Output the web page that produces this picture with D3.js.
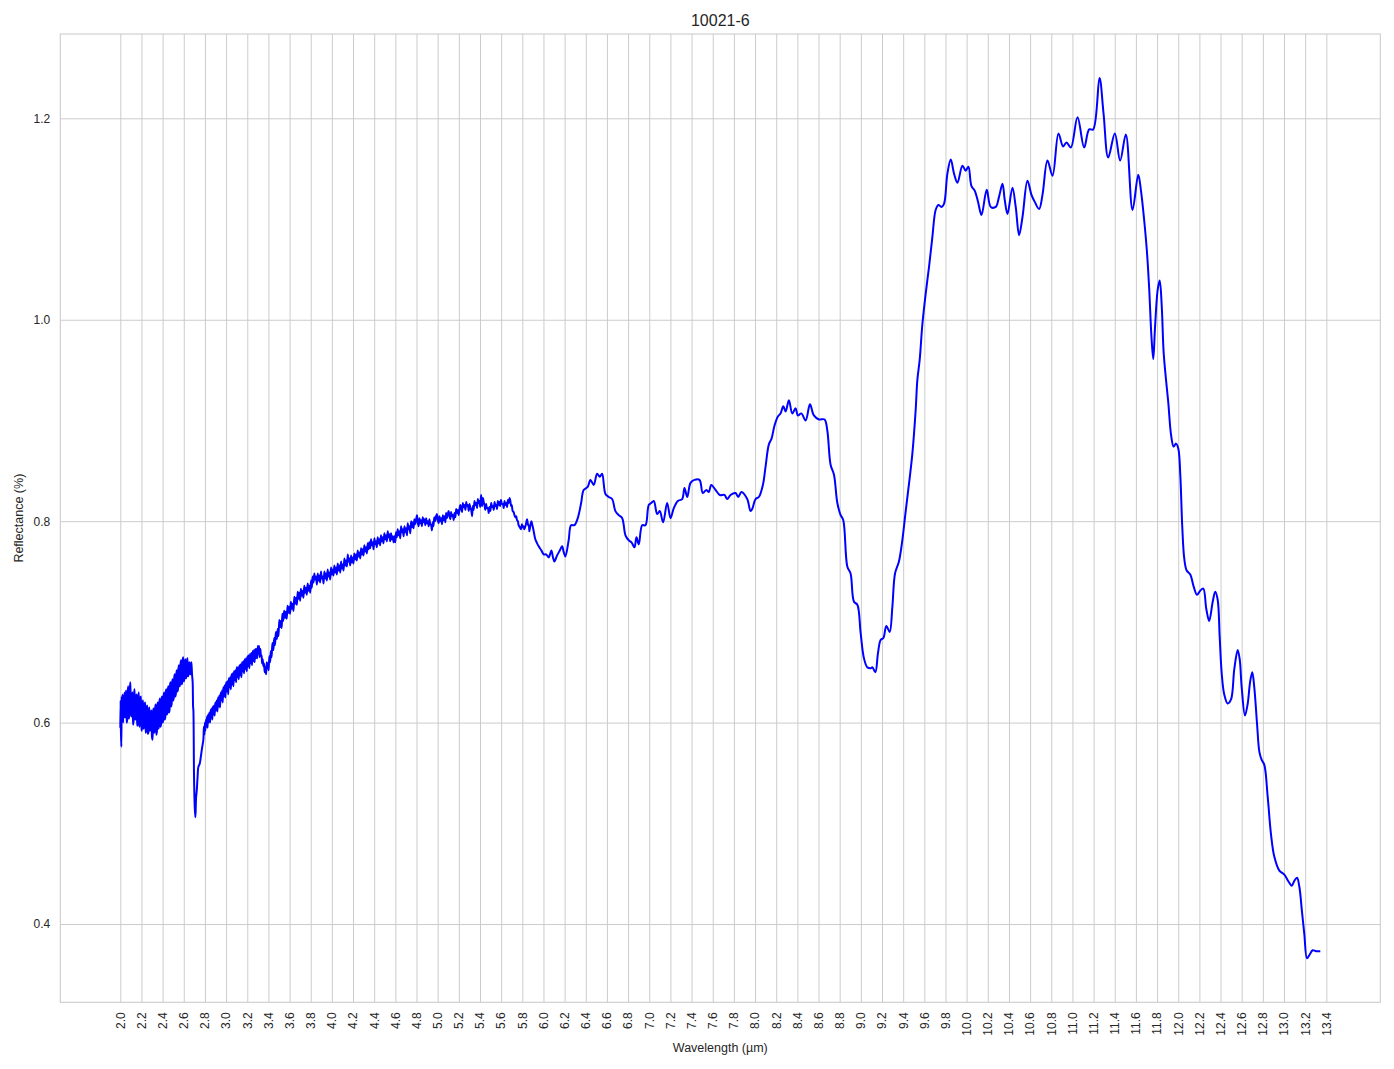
<!DOCTYPE html>
<html>
<head>
<meta charset="utf-8">
<script src="https://cdn.jsdelivr.net/npm/d3@7"></script>
<style>
  html, body { margin: 0; padding: 0; background: #ffffff; }
  svg { display: block; }
  text { font-family: "Liberation Sans", Arial, sans-serif; fill: #262626; }
</style>
</head>
<body>
<svg id="chart" width="1394" height="1069"></svg>
<script>
// ---------- DATA ----------
const title = "10021-6";
const xLabel = "Wavelength (µm)";
const yLabel = "Reflectance (%)";

const xTicks = [2.0,2.2,2.4,2.6,2.8,3.0,3.2,3.4,3.6,3.8,4.0,4.2,4.4,4.6,4.8,5.0,5.2,5.4,5.6,5.8,
  6.0,6.2,6.4,6.6,6.8,7.0,7.2,7.4,7.6,7.8,8.0,8.2,8.4,8.6,8.8,9.0,9.2,9.4,9.6,9.8,
  10.0,10.2,10.4,10.6,10.8,11.0,11.2,11.4,11.6,11.8,12.0,12.2,12.4,12.6,12.8,13.0,13.2,13.4];
const yTicks = [0.4, 0.6, 0.8, 1.0, 1.2];

// [wavelength µm, reflectance]
const segNearIR = [
  [2.000,0.595],[2.003,0.622],[2.006,0.590],[2.010,0.576],[2.013,0.626],[2.018,0.604],[2.022,0.628],[2.027,0.600],[2.031,0.627],[2.036,0.605],[2.040,0.630],
  [2.045,0.605],[2.050,0.626],[2.055,0.632],[2.060,0.600],[2.065,0.603],[2.070,0.630],[2.075,0.636],[2.080,0.604],[2.085,0.608],[2.090,0.633],[2.095,0.640],[2.100,0.610],[2.105,0.606],
  [2.110,0.627],[2.115,0.630],[2.120,0.598],[2.125,0.601],[2.130,0.628],[2.135,0.633],[2.140,0.603],[2.145,0.607],[2.150,0.626],[2.155,0.628],[2.160,0.597],[2.165,0.598],[2.170,0.625],[2.175,0.630],
  [2.180,0.596],[2.185,0.600],[2.190,0.624],[2.195,0.626],[2.200,0.592],[2.205,0.594],[2.210,0.619],[2.215,0.622],[2.220,0.594],[2.225,0.598],[2.230,0.618],[2.235,0.620],[2.240,0.590],[2.245,0.592],
  [2.250,0.614],[2.255,0.617],[2.260,0.589],[2.265,0.590],[2.270,0.612],[2.275,0.615],[2.280,0.592],[2.285,0.595],[2.290,0.609],[2.295,0.612],[2.300,0.585],[2.305,0.583],[2.310,0.611],[2.315,0.614],
  [2.320,0.590],[2.325,0.592],[2.330,0.615],[2.335,0.618],[2.340,0.588],[2.345,0.590],[2.350,0.617],[2.355,0.620],[2.360,0.594],[2.365,0.596],[2.370,0.621],[2.375,0.624],[2.380,0.596],[2.385,0.598],
  [2.390,0.623],[2.395,0.626],[2.400,0.600],[2.405,0.602],[2.410,0.627],[2.415,0.630],[2.420,0.603],[2.425,0.605],[2.430,0.630],[2.435,0.633],[2.440,0.608],[2.445,0.610],[2.450,0.633],[2.455,0.636],
  [2.460,0.610],[2.465,0.612],[2.470,0.637],[2.475,0.640],[2.480,0.616],[2.485,0.618],[2.490,0.640],[2.495,0.643],[2.500,0.622],[2.505,0.624],[2.510,0.645],[2.515,0.648],[2.520,0.626],[2.525,0.628],
  [2.530,0.649],[2.535,0.652],[2.540,0.631],[2.545,0.633],[2.550,0.654],[2.555,0.657],[2.560,0.636],[2.565,0.638],[2.570,0.659],[2.575,0.662],[2.580,0.638],[2.585,0.640],[2.590,0.662],[2.595,0.665],
  [2.600,0.641],[2.605,0.643],[2.610,0.660],[2.615,0.663],[2.620,0.644],[2.625,0.646],[2.630,0.661],[2.635,0.664],[2.640,0.646],[2.645,0.648],[2.650,0.658],[2.655,0.660],[2.660,0.648],[2.665,0.650],
  [2.672,0.660],[2.678,0.648],[2.684,0.640],[2.688,0.616],[2.691,0.612],[2.697,0.546],[2.704,0.515],[2.710,0.506],
  [2.716,0.525],[2.723,0.533],[2.730,0.545],[2.738,0.556],[2.750,0.559],[2.761,0.566],[2.773,0.575]
];

const segMidIR = [
  [2.785,0.583],[2.790,0.596],[2.795,0.588],[2.800,0.600],[2.804,0.592],[2.810,0.603],[2.815,0.596],[2.820,0.606],[2.825,0.595],[2.830,0.608],[2.835,0.600],[2.842,0.610],[2.849,0.600],
  [2.855,0.613],[2.860,0.605],[2.865,0.614],[2.870,0.603],[2.875,0.616],[2.880,0.608],[2.886,0.617],[2.892,0.607],[2.898,0.620],[2.905,0.612],[2.911,0.622],[2.918,0.611],[2.924,0.625],[2.930,0.616],
  [2.936,0.627],[2.943,0.615],[2.949,0.630],[2.955,0.622],[2.962,0.632],[2.968,0.620],[2.974,0.635],[2.980,0.626],[2.987,0.637],[2.993,0.625],[3.000,0.640],[3.007,0.631],[3.013,0.641],[3.020,0.628],
  [3.026,0.644],[3.032,0.635],[3.039,0.645],[3.045,0.633],[3.051,0.648],[3.057,0.638],[3.063,0.649],[3.069,0.636],[3.075,0.651],[3.082,0.642],[3.088,0.652],[3.095,0.640],[3.101,0.655],[3.107,0.645],
  [3.113,0.655],[3.120,0.643],[3.126,0.657],[3.132,0.647],[3.138,0.658],[3.145,0.645],[3.151,0.660],[3.158,0.651],[3.164,0.661],[3.170,0.649],[3.176,0.663],[3.183,0.653],[3.189,0.664],[3.196,0.651],
  [3.202,0.666],[3.208,0.656],[3.214,0.667],[3.220,0.654],[3.226,0.668],[3.233,0.659],[3.239,0.669],[3.245,0.657],[3.252,0.671],[3.258,0.661],[3.264,0.672],[3.270,0.660],[3.276,0.673],[3.283,0.664],
  [3.289,0.673],[3.295,0.664],[3.300,0.676],[3.306,0.669],[3.312,0.676],[3.318,0.665],[3.324,0.673],[3.330,0.666],[3.335,0.667],[3.340,0.659],[3.346,0.663],[3.352,0.656],[3.358,0.659],[3.365,0.650],
  [3.372,0.655],[3.378,0.648],[3.384,0.660],[3.390,0.654],[3.396,0.659],[3.402,0.652],[3.409,0.666],[3.416,0.660],[3.423,0.671],[3.430,0.665],[3.438,0.679],[3.447,0.672],[3.455,0.684],[3.462,0.677],
  [3.471,0.690],[3.480,0.683],[3.488,0.693],[3.495,0.686],[3.503,0.702],[3.511,0.695],[3.518,0.701],[3.525,0.694],[3.532,0.708],[3.540,0.701],[3.549,0.711],[3.558,0.704],[3.565,0.710],[3.573,0.703],
  [3.581,0.716],[3.590,0.709],[3.597,0.715],[3.605,0.708],[3.612,0.720],[3.620,0.713],[3.628,0.718],[3.637,0.711],[3.645,0.725],[3.653,0.718],[3.661,0.724],[3.669,0.717],[3.677,0.730],[3.685,0.723],
  [3.692,0.729],[3.700,0.721],[3.707,0.733],[3.715,0.726],[3.723,0.731],[3.731,0.724],[3.739,0.736],[3.747,0.729],[3.755,0.734],[3.763,0.727],[3.771,0.738],[3.779,0.731],[3.787,0.736],[3.795,0.729],
  [3.803,0.741],[3.810,0.734],[3.818,0.745],[3.826,0.739],[3.834,0.748],[3.842,0.742],[3.850,0.745],[3.858,0.737],[3.866,0.748],[3.874,0.741],[3.881,0.746],[3.889,0.739],[3.897,0.750],[3.905,0.743],
  [3.913,0.745],[3.921,0.738],[3.929,0.750],[3.937,0.743],[3.945,0.748],[3.953,0.741],[3.960,0.752],[3.968,0.745],[3.976,0.749],[3.984,0.742],[3.992,0.754],[4.000,0.747],[4.008,0.752],[4.015,0.746],
  [4.023,0.756],[4.031,0.749],[4.039,0.754],[4.047,0.747],[4.055,0.758],[4.063,0.751],[4.071,0.756],[4.079,0.749],[4.087,0.760],[4.094,0.753],[4.102,0.757],[4.110,0.751],[4.118,0.763],[4.126,0.756],
  [4.134,0.761],[4.142,0.755],[4.150,0.767],[4.157,0.760],[4.165,0.763],[4.173,0.756],[4.181,0.766],[4.189,0.759],[4.197,0.764],[4.204,0.758],[4.212,0.768],[4.220,0.762],[4.228,0.767],[4.236,0.761],
  [4.244,0.771],[4.252,0.765],[4.260,0.769],[4.268,0.763],[4.276,0.773],[4.283,0.767],[4.291,0.772],[4.299,0.766],[4.307,0.776],[4.315,0.770],[4.323,0.774],[4.331,0.768],[4.339,0.778],[4.346,0.772],
  [4.354,0.779],[4.362,0.773],[4.370,0.782],[4.378,0.776],[4.386,0.779],[4.394,0.772],[4.402,0.783],[4.409,0.777],[4.417,0.780],[4.425,0.774],[4.433,0.784],[4.441,0.778],[4.449,0.782],[4.456,0.776],
  [4.464,0.786],[4.472,0.780],[4.480,0.784],[4.488,0.778],[4.496,0.788],[4.504,0.782],[4.512,0.786],[4.520,0.780],[4.528,0.790],[4.535,0.784],[4.543,0.787],[4.551,0.780],[4.559,0.788],[4.567,0.782],
  [4.575,0.785],[4.583,0.779],[4.591,0.785],[4.599,0.779],[4.606,0.789],[4.614,0.784],[4.622,0.792],[4.630,0.786],[4.638,0.790],[4.646,0.783],[4.654,0.795],[4.662,0.789],[4.670,0.792],[4.678,0.785],
  [4.686,0.795],[4.694,0.789],[4.702,0.793],[4.710,0.786],[4.717,0.798],[4.725,0.792],[4.733,0.795],[4.741,0.788],[4.749,0.800],[4.757,0.794],[4.765,0.799],[4.772,0.793],[4.780,0.802],[4.788,0.797],
  [4.796,0.801],[4.804,0.806],[4.812,0.799],[4.820,0.795],[4.828,0.803],[4.835,0.798],[4.843,0.801],[4.851,0.795],[4.859,0.804],[4.867,0.799],[4.875,0.802],[4.883,0.796],[4.891,0.803],[4.899,0.798],
  [4.907,0.800],[4.915,0.795],[4.922,0.802],[4.930,0.797],[4.938,0.796],[4.945,0.791],[4.953,0.799],[4.960,0.795],[4.968,0.804],[4.977,0.800],[4.985,0.805],[4.993,0.807],[5.001,0.801],[5.009,0.798],
  [5.017,0.805],[5.025,0.800],[5.033,0.803],[5.041,0.797],[5.049,0.806],[5.057,0.801],[5.065,0.805],[5.072,0.799],[5.080,0.808],[5.088,0.803],[5.096,0.807],[5.103,0.810],[5.111,0.806],[5.119,0.802],
  [5.127,0.809],[5.135,0.805],[5.143,0.806],[5.151,0.801],[5.159,0.808],[5.167,0.804],[5.175,0.812],[5.183,0.808],[5.190,0.811],[5.198,0.806],[5.206,0.812],[5.214,0.816],[5.222,0.813],[5.230,0.809],
  [5.238,0.818],[5.246,0.814],[5.254,0.816],[5.262,0.811],[5.270,0.819],[5.277,0.815],[5.285,0.816],[5.293,0.810],[5.301,0.817],[5.309,0.813],[5.317,0.811],[5.325,0.805],[5.332,0.815],[5.340,0.811],
  [5.348,0.820],[5.356,0.816],[5.364,0.818],[5.372,0.813],[5.380,0.822],[5.388,0.818],[5.395,0.820],[5.402,0.814],[5.410,0.826],[5.415,0.820],[5.420,0.815],[5.428,0.823],[5.435,0.819],[5.443,0.816],
  [5.450,0.811],[5.458,0.817],[5.466,0.813],[5.474,0.813],[5.482,0.808],[5.490,0.814],[5.498,0.810],[5.506,0.818],[5.514,0.814],[5.522,0.815],[5.530,0.811],[5.538,0.819],[5.546,0.815],[5.553,0.816],
  [5.561,0.812],[5.569,0.820],[5.577,0.816],[5.583,0.819],[5.589,0.815],[5.598,0.821],[5.608,0.817],[5.616,0.817],[5.624,0.813],[5.632,0.820],[5.640,0.816],[5.648,0.818],[5.656,0.814],[5.664,0.821],
  [5.672,0.818],[5.680,0.823],[5.687,0.820],[5.694,0.815],[5.700,0.816],[5.709,0.810],[5.718,0.809],[5.726,0.806],[5.734,0.804],[5.742,0.805],[5.750,0.801],[5.758,0.800],[5.765,0.796],[5.776,0.794],
  [5.788,0.792],[5.796,0.797],[5.803,0.794],[5.811,0.795],[5.819,0.792],[5.832,0.796],[5.845,0.802],[5.850,0.799],[5.856,0.796],[5.862,0.795],[5.867,0.790],[5.876,0.796],[5.886,0.800],[5.893,0.797],
  [5.900,0.794],[5.911,0.788],[5.923,0.782],[5.940,0.778],[5.955,0.775],[5.980,0.771],[6.002,0.767],[6.025,0.767],[6.049,0.764],[6.062,0.767],[6.075,0.771],[6.090,0.764],[6.103,0.760],
  [6.129,0.766],[6.155,0.771],[6.176,0.775],[6.192,0.769],[6.207,0.765],[6.238,0.781],[6.261,0.796],[6.292,0.796],[6.324,0.803],
  [6.356,0.818],[6.380,0.831],[6.418,0.834],[6.444,0.841],[6.475,0.836],[6.507,0.847],[6.532,0.844],
  [6.554,0.847],[6.586,0.827],[6.617,0.824],[6.649,0.822],[6.680,0.810],[6.711,0.806],[6.744,0.803],
  [6.775,0.786],[6.806,0.781],[6.832,0.779],[6.860,0.774],[6.879,0.784],[6.901,0.777],[6.933,0.796],
  [6.964,0.796],[6.995,0.816],[7.018,0.818],[7.043,0.820],[7.075,0.807],[7.099,0.810],[7.131,0.799],
  [7.169,0.818],[7.201,0.803],[7.232,0.813],[7.270,0.820],[7.311,0.822],[7.333,0.833],[7.359,0.824],
  [7.390,0.838],[7.428,0.841],[7.475,0.841],[7.506,0.828],[7.541,0.831],[7.563,0.829],[7.586,0.836],
  [7.626,0.831],[7.667,0.826],[7.711,0.826],[7.737,0.822],[7.768,0.826],[7.815,0.828],[7.841,0.824],
  [7.872,0.829],[7.926,0.822],[7.957,0.810],[7.973,0.812],[8.005,0.822],[8.036,0.824],[8.074,0.836]
];

const segThermalIR = [
  [8.099,0.854],[8.130,0.876],[8.156,0.882],[8.184,0.895],[8.216,0.904],[8.241,0.907],[8.267,0.914],
  [8.289,0.909],[8.320,0.920],[8.352,0.907],[8.383,0.912],[8.405,0.905],[8.437,0.907],[8.478,0.900],
  [8.519,0.916],[8.556,0.905],[8.604,0.901],[8.657,0.901],[8.683,0.890],[8.714,0.856],[8.746,0.846],
  [8.778,0.818],[8.809,0.806],[8.834,0.801],[8.872,0.755],[8.903,0.748],[8.935,0.720],[8.967,0.717],
  [8.998,0.689],[9.029,0.664],[9.061,0.655],[9.093,0.654],[9.109,0.655],[9.137,0.650],[9.162,0.669],
  [9.187,0.682],[9.213,0.684],[9.241,0.696],[9.272,0.690],[9.298,0.715],[9.323,0.748],[9.360,0.760],
  [9.392,0.781],[9.424,0.810],[9.455,0.837],[9.487,0.867],[9.518,0.910],[9.534,0.940],[9.556,0.960],
  [9.582,0.996],[9.613,1.026],[9.644,1.052],[9.676,1.082],[9.707,1.109],[9.733,1.114],[9.762,1.112],
  [9.786,1.115],[9.818,1.145],[9.850,1.159],[9.881,1.145],[9.913,1.136],[9.960,1.153],[9.991,1.148],
  [10.017,1.152],[10.045,1.133],[10.077,1.128],[10.108,1.117],[10.140,1.104],[10.190,1.129],[10.228,1.112],
  [10.275,1.112],[10.306,1.122],[10.339,1.135],[10.360,1.119],[10.386,1.105],[10.433,1.131],[10.464,1.112],
  [10.496,1.084],[10.528,1.102],[10.575,1.138],[10.613,1.124],[10.644,1.117],[10.685,1.110],[10.717,1.124],
  [10.764,1.158],[10.812,1.143],[10.868,1.185],[10.912,1.172],[10.944,1.176],[10.985,1.171],[11.048,1.201],
  [11.111,1.171],[11.158,1.189],[11.196,1.189],[11.256,1.240],[11.294,1.205],[11.338,1.161],[11.401,1.185],
  [11.451,1.158],[11.505,1.184],[11.568,1.109],[11.622,1.144],[11.647,1.129],[11.678,1.099],[11.704,1.068],
  [11.726,1.030],[11.746,0.985],[11.764,0.961],[11.780,0.991],[11.806,1.030],[11.825,1.039],[11.844,1.014],
  [11.862,0.968],[11.884,0.941],[11.906,0.918],[11.932,0.886],[11.957,0.874],[11.979,0.877],[12.001,0.872],
  [12.020,0.845],[12.038,0.795],[12.057,0.763],[12.080,0.751],[12.114,0.747],[12.146,0.735],[12.177,0.727],
  [12.208,0.731],[12.237,0.733],[12.265,0.713],[12.293,0.701],[12.326,0.720],[12.350,0.730],[12.373,0.722],
  [12.392,0.685],[12.411,0.649],[12.435,0.628],[12.467,0.619],[12.499,0.623],[12.530,0.653],[12.562,0.672],
  [12.581,0.663],[12.600,0.635],[12.631,0.607],[12.657,0.619],[12.679,0.640],[12.700,0.650],[12.719,0.635],
  [12.745,0.599],[12.767,0.571],[12.789,0.563],[12.814,0.558],[12.846,0.526],[12.877,0.489],[12.908,0.467],
  [12.956,0.453],[13.003,0.449],[13.044,0.442],[13.073,0.438],[13.098,0.443],[13.123,0.446],[13.145,0.437],
  [13.170,0.412],[13.192,0.390],[13.217,0.366],[13.239,0.369],[13.271,0.374],[13.303,0.373],[13.343,0.373]
];

// ---------- CHART ----------
const spectrum = segNearIR.concat(segMidIR, segThermalIR).map(d => ({ wl: d[0], r: d[1] }));

const W = 1394, H = 1069;
const margin = { top: 34, right: 13.7, bottom: 66.7, left: 60.3 };
const iw = W - margin.left - margin.right;
const ih = H - margin.top - margin.bottom;

const svg = d3.select("#chart");
const g = svg.append("g").attr("transform", `translate(${margin.left},${margin.top})`);

const xExt = d3.extent(spectrum, d => d.wl);
const yExt = d3.extent(spectrum, d => d.r);
const xPad = (xExt[1] - xExt[0]) * 0.05;
const yPad = (yExt[1] - yExt[0]) * 0.05;

const x = d3.scaleLinear().domain([xExt[0] - xPad, xExt[1] + xPad]).range([0, iw]);
const y = d3.scaleLinear().domain([yExt[0] - yPad, yExt[1] + yPad]).range([ih, 0]);

// gridlines
const xGrid = g.append("g").attr("transform", `translate(0,${ih})`)
  .call(d3.axisBottom(x).tickValues(xTicks).tickSize(-ih).tickFormat(""));
const yGrid = g.append("g")
  .call(d3.axisLeft(y).tickValues(yTicks).tickSize(-iw).tickFormat(""));
[xGrid, yGrid].forEach(a => {
  a.select(".domain").remove();
  a.selectAll(".tick line").attr("stroke", "#cccccc").attr("stroke-width", 1);
});

// frame
g.append("rect").attr("x", 0).attr("y", 0).attr("width", iw).attr("height", ih)
  .attr("fill", "none").attr("stroke", "#cccccc").attr("stroke-width", 1.1);

// tick labels
const xAxis = g.append("g").attr("transform", `translate(0,${ih})`)
  .call(d3.axisBottom(x).tickValues(xTicks).tickSize(0).tickFormat(d3.format(".1f")));
xAxis.select(".domain").remove();
xAxis.selectAll(".tick text")
  .attr("transform", "rotate(-90)")
  .attr("text-anchor", "end")
  .attr("x", -10).attr("y", 0).attr("dy", "0.32em")
  .style("font-size", "12px").style("fill", "#262626")
  .style("font-family", '"Liberation Sans", Arial, sans-serif');

const yAxis = g.append("g")
  .call(d3.axisLeft(y).tickValues(yTicks).tickSize(0).tickFormat(d3.format(".1f")));
yAxis.select(".domain").remove();
yAxis.selectAll(".tick text")
  .attr("x", -10)
  .style("font-size", "12px").style("fill", "#262626")
  .style("font-family", '"Liberation Sans", Arial, sans-serif');

// spectrum line
const line = d3.line().curve(d3.curveCatmullRom.alpha(0.5)).x(d => x(d.wl)).y(d => y(d.r));
g.append("path").datum(spectrum)
  .attr("d", line)
  .attr("fill", "none")
  .attr("stroke", "#0000ff")
  .attr("stroke-width", 2)
  .attr("stroke-linejoin", "round");

// title & axis labels
svg.append("text").attr("x", margin.left + iw / 2).attr("y", 26)
  .attr("text-anchor", "middle").style("font-size", "16px").text(title);
svg.append("text").attr("x", margin.left + iw / 2).attr("y", 1052)
  .attr("text-anchor", "middle").style("font-size", "12.5px").text(xLabel);
svg.append("text").attr("transform", `translate(23,${margin.top + ih / 2}) rotate(-90)`)
  .attr("text-anchor", "middle").style("font-size", "12.5px").text(yLabel);
</script>
</body>
</html>
